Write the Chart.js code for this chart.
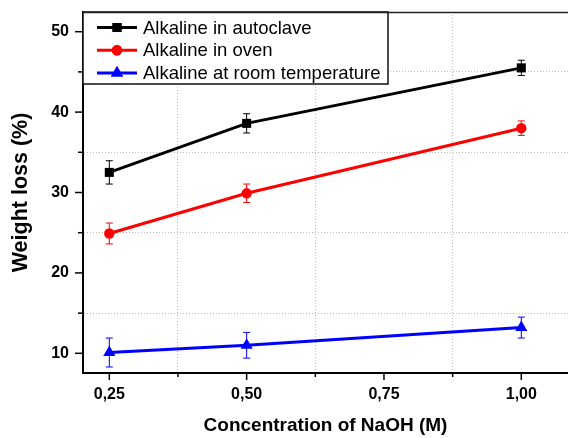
<!DOCTYPE html>
<html>
<head>
<meta charset="utf-8">
<script src="https://cdn.jsdelivr.net/npm/chart.js@4.4.0/dist/chart.umd.min.js"></script>
<style>
  html, body { margin: 0; padding: 0; background: #fff; }
  #wrap { width: 568px; height: 438px; }
</style>
</head>
<body>
<div id="wrap"><canvas id="chart" width="568" height="438"></canvas></div>
<script>
// values
const concentrations = [0.25, 0.5, 1.0];
const autoclave = [32.5, 38.6, 45.5];
const autoclaveErr = [1.45, 1.2, 0.95];
const oven = [24.9, 29.9, 38.0];
const ovenErr = [1.3, 1.15, 0.9];
const roomTemp = [10.1, 11.0, 13.2];
const roomTempErr = [1.8, 1.6, 1.3];

const seriesLabels = ["Alkaline in autoclave", "Alkaline in oven", "Alkaline at room temperature"];
const xTicks = [0.25, 0.375, 0.5, 0.625, 0.75, 0.875, 1.0];
const xMajor = [0.25, 0.5, 0.75, 1.0];
const yTicks = [10, 15, 20, 25, 30, 35, 40, 45, 50];
const yMajor = [10, 20, 30, 40, 50];

const FONT = "'Liberation Sans', Arial, sans-serif";

const isMajor = (list, v) => list.some(m => Math.abs(m - v) < 1e-6);

function makeSeries(label, values, errors, color, style, radius) {
    return {
        label: label,
        data: concentrations.map((c, i) => ({ x: c, y: values[i] })),
        errors: errors,
        borderColor: color,
        backgroundColor: color,
        borderWidth: 3,
        pointStyle: style,
        pointRadius: radius,
        pointHoverRadius: radius,
        pointBorderWidth: 0,
        tension: 0
    };
}

// error bars, drawn under the markers
const errorBars = {
    id: "errorBars",
    beforeDatasetsDraw(chart) {
        const ctx = chart.ctx;
        const xs = chart.scales.x, ys = chart.scales.y;
        chart.data.datasets.forEach(ds => {
            ctx.save();
            ctx.strokeStyle = ds.borderColor;
            ctx.lineWidth = 1;
            ds.data.forEach((p, i) => {
                const x = xs.getPixelForValue(p.x);
                const top = ys.getPixelForValue(p.y + ds.errors[i]);
                const bot = ys.getPixelForValue(p.y - ds.errors[i]);
                ctx.beginPath();
                ctx.moveTo(x, top); ctx.lineTo(x, bot);
                ctx.moveTo(x - 3.5, top); ctx.lineTo(x + 3.5, top);
                ctx.moveTo(x - 3.5, bot); ctx.lineTo(x + 3.5, bot);
                ctx.stroke();
            });
            ctx.restore();
        });
    }
};

// outward tick marks + top frame line
const frame = {
    id: "frame",
    afterDraw(chart) {
        const ctx = chart.ctx;
        const a = chart.chartArea;
        const xs = chart.scales.x, ys = chart.scales.y;
        ctx.save();
        ctx.strokeStyle = "#000";
        ctx.lineWidth = 1.5;
        xTicks.forEach(v => {
            const x = xs.getPixelForValue(v);
            const len = isMajor(xMajor, v) ? 7 : 4;
            ctx.beginPath(); ctx.moveTo(x, a.bottom); ctx.lineTo(x, a.bottom + len); ctx.stroke();
        });
        yTicks.forEach(v => {
            const y = ys.getPixelForValue(v);
            const len = isMajor(yMajor, v) ? 8 : 5;
            ctx.beginPath(); ctx.moveTo(a.left, y); ctx.lineTo(a.left - len, y); ctx.stroke();
        });
        ctx.strokeStyle = "#222";
        ctx.beginPath(); ctx.moveTo(a.left, a.top + 0.5); ctx.lineTo(a.right, a.top + 0.5); ctx.stroke();
        ctx.restore();
    }
};

// legend box in the upper left of the plot
const legendBox = {
    id: "legendBox",
    afterDatasetsDraw(chart) {
        const ctx = chart.ctx;
        const a = chart.chartArea;
        const left = a.left, top = a.top, w = 305, h = 72;
        ctx.save();
        ctx.fillStyle = "#fff";
        ctx.fillRect(left, top, w, h);
        ctx.strokeStyle = "#111";
        ctx.lineWidth = 1.5;
        ctx.strokeRect(left, top, w, h);
        chart.data.datasets.forEach((ds, i) => {
            const y = top + 15.5 + i * 22.7;
            ctx.strokeStyle = ds.borderColor;
            ctx.lineWidth = 3;
            ctx.beginPath(); ctx.moveTo(left + 14, y); ctx.lineTo(left + 54, y); ctx.stroke();
            ctx.fillStyle = ds.backgroundColor;
            Chart.helpers.drawPoint(ctx, { pointStyle: ds.pointStyle, radius: ds.pointRadius, borderWidth: 0 }, left + 34, y);
            ctx.fill();
            ctx.fillStyle = "#000";
            ctx.font = "18.5px " + FONT;
            ctx.textBaseline = "middle";
            ctx.textAlign = "left";
            ctx.fillText(ds.label, left + 60, y + 1);
        });
        ctx.restore();
    }
};

const gridColor = list => ctx => (ctx.tick && !isMajor(list, ctx.tick.value)) ? "#bdbdbd" : "rgba(0,0,0,0)";

new Chart(document.getElementById("chart"), {
    type: "line",
    data: {
        datasets: [
            makeSeries(seriesLabels[0], autoclave, autoclaveErr, "#000000", "rect", 6.4),
            makeSeries(seriesLabels[1], oven, ovenErr, "#ff0000", "circle", 5.2),
            makeSeries(seriesLabels[2], roomTemp, roomTempErr, "#0000ff", "triangle", 7)
        ]
    },
    options: {
        responsive: false,
        animation: false,
        devicePixelRatio: 1,
        layout: { autoPadding: false, padding: { top: 12, right: 0, left: 0, bottom: 0 } },
        plugins: { legend: { display: false }, tooltip: { enabled: false } },
        scales: {
            x: {
                type: "linear",
                min: 0.2021,
                max: 1.085,
                afterBuildTicks: axis => { axis.ticks = xTicks.map(v => ({ value: v })); },
                afterFit: axis => {
                    axis.height = 65;
                    axis.paddingLeft = 0;
                    axis.paddingRight = 0;
                },
                grid: { color: gridColor(xMajor), lineWidth: 1, drawTicks: false },
                border: { color: "#000", width: 2, dash: [1, 2] },
                ticks: {
                    padding: 12,
                    color: "#000",
                    font: { family: FONT, size: 16, weight: "bold" },
                    autoSkip: false,
                    maxRotation: 0,
                    callback: v => isMajor(xMajor, v) ? v.toFixed(2).replace(".", ",") : ""
                },
                title: {
                    display: true,
                    text: "Concentration of NaOH (M)",
                    color: "#000",
                    font: { family: FONT, size: 19, weight: "bold" },
                    padding: { top: 0, bottom: 1 }
                }
            },
            y: {
                min: 7.55,
                max: 52.45,
                afterBuildTicks: axis => { axis.ticks = yTicks.map(v => ({ value: v })); },
                afterFit: axis => {
                    axis.width = 83;
                    axis.paddingTop = 0;
                    axis.paddingBottom = 0;
                },
                grid: { color: gridColor(yMajor), lineWidth: 1, drawTicks: false },
                border: { color: "#000", width: 2, dash: [1, 2] },
                ticks: {
                    padding: 14,
                    color: "#000",
                    font: { family: FONT, size: 16, weight: "bold" },
                    autoSkip: false,
                    callback: v => isMajor(yMajor, v) ? String(v) : ""
                },
                title: {
                    display: true,
                    text: "Weight loss (%)",
                    color: "#000",
                    font: { family: FONT, size: 21.5, weight: "bold" },
                    padding: { top: 8, bottom: 0 }
                }
            }
        }
    },
    plugins: [errorBars, frame, legendBox]
});
</script>
</body>
</html>
